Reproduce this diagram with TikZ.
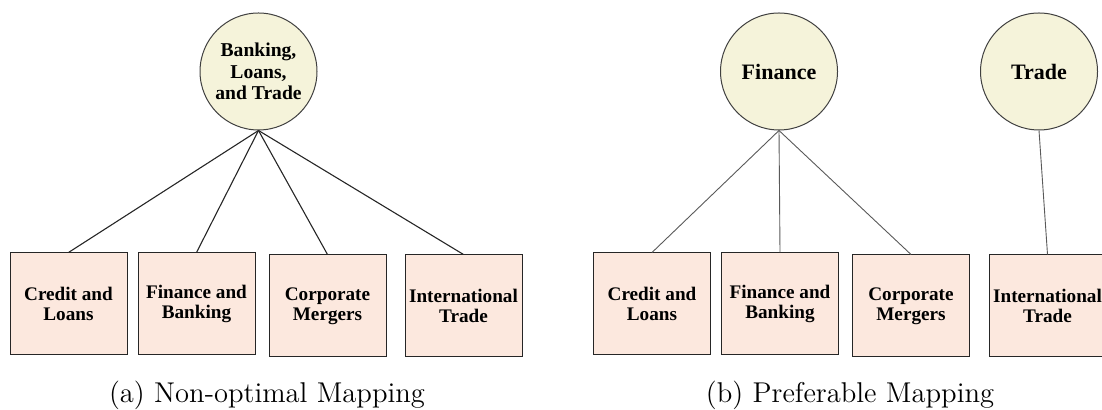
\documentclass[tikz,border=0pt]{standalone}
\usepackage{fontspec}
\usepackage{tikz}
\usetikzlibrary{positioning}
\newfontfamily\labelfont{Liberation Serif}
\definecolor{topicfill}{RGB}{245,243,218}
\definecolor{catfill}{RGB}{252,232,222}
\tikzset{
    topic/.style={circle, minimum size=58.5pt, inner sep=0pt, align=center, draw=black!75, fill=topicfill, line width=0.5pt, font=\labelfont\bfseries\fontsize{9.8}{10.6}\selectfont},
    bigtopic/.style={topic, font=\labelfont\bfseries\fontsize{11}{12}\selectfont},
    category/.style={rectangle, minimum width=58.5pt, minimum height=51pt, inner sep=0pt, align=center, draw=black!85, fill=catfill, line width=0.5pt, font=\labelfont\bfseries\fontsize{9.6}{10.2}\selectfont},
    link/.style={line width=0.55pt, draw=black!85},
    thinlink/.style={line width=0.45pt, draw=black!65},
    caption/.style={font=\fontsize{14.3}{17}\selectfont}
}
\begin{document}
\begin{tikzpicture}[x=0.5pt, y=-0.5pt]
    \useasboundingbox (0,0) rectangle (1102,410);

    % (a) one topic for everything
    \node (root) [topic] at (258.5, 71.5) {Banking,\\Loans,\\and Trade};

    \node (a1) [category] at (68.5, 304) {Credit and\\Loans};
    \node (a2) [category] at (196.5, 304) {Finance and\\Banking};
    \node (a3) [category] at (327.5, 306) {Corporate\\Mergers};
    \node (a4) [category] at (463.5, 306) {International\\Trade};

    \draw [link] (root.south) -- (a1.north);
    \draw [link] (root.south) -- (a2.north);
    \draw [link] (root.south) -- (a3.north);
    \draw [link] (root.south) -- (a4.north);

    \node (capa) [caption] at (267, 395) {(a) Non-optimal Mapping};

    % (b) two topics
    \node (fin) [bigtopic] at (779, 71.5) {Finance};
    \node (trd) [bigtopic] at (1039, 71.5) {Trade};

    \node (b1) [category] at (652, 304) {Credit and\\Loans};
    \node (b2) [category] at (780, 304) {Finance and\\Banking};
    \node (b3) [category] at (911, 306) {Corporate\\Mergers};
    \node (b4) [category] at (1047.5, 306) {International\\Trade};

    \draw [thinlink] (fin.south) -- (b1.north);
    \draw [thinlink] (fin.south) -- (b2.north);
    \draw [thinlink] (fin.south) -- (b3.north);
    \draw [thinlink] (trd.south) -- (b4.north);

    \node (capb) [caption] at (850, 395) {(b) Preferable Mapping};
\end{tikzpicture}
\end{document}
